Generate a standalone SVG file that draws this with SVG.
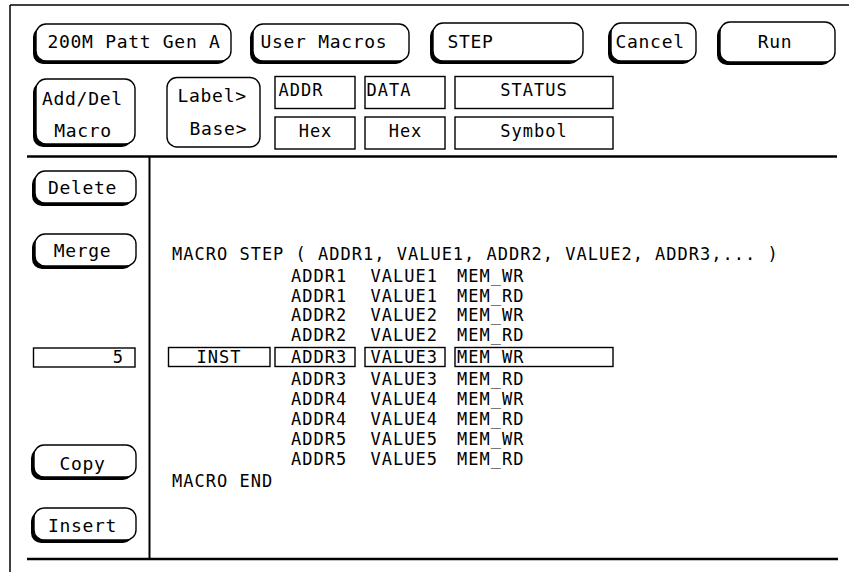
<svg xmlns="http://www.w3.org/2000/svg" width="849" height="572" viewBox="0 0 849 572">
<style>
text{font-family:"DejaVu Sans Mono","Liberation Mono",monospace;fill:#000}
.b{font-size:18px;letter-spacing:0.7px}
.t{font-size:17px;letter-spacing:1px}
.sh{fill:#000;stroke:none}
.face{fill:#fff;stroke:#000;stroke-width:1.4}
.box{fill:#fff;stroke:#000;stroke-width:1.4}
.ln{stroke:#000;fill:none}
.m{text-anchor:middle}
.e{text-anchor:end}
</style>
<rect x="0" y="0" width="849" height="572" fill="#fff"/>
<g id="frame">
<line class="ln" x1="10" y1="5" x2="849" y2="5" stroke-width="1.5"/>
<line class="ln" x1="10" y1="5" x2="10" y2="572" stroke-width="1.5"/>
<line class="ln" x1="27" y1="156.5" x2="837" y2="156.5" stroke-width="2.5"/>
<line class="ln" x1="149.5" y1="156" x2="149.5" y2="559" stroke-width="2"/>
<line class="ln" x1="27" y1="559" x2="838" y2="559" stroke-width="2.5"/>
</g>
<g id="btn-pattgen">
<rect class="sh" x="33" y="27" width="195" height="37" rx="10"/>
<rect class="face" x="36" y="24" width="195" height="37" rx="10"/>
<text class="b m" x="134" y="48">200M Patt Gen A</text>
</g>
<g id="btn-usermacros">
<rect class="sh" x="250" y="27" width="156" height="37" rx="10"/>
<rect class="face" x="253" y="24" width="156" height="37" rx="10"/>
<text class="b" x="260.5" y="48">User Macros</text>
</g>
<g id="btn-step">
<rect class="sh" x="430" y="26" width="150" height="38" rx="10"/>
<rect class="face" x="433" y="23" width="150" height="38" rx="10"/>
<text class="b" x="447.5" y="48">STEP</text>
</g>
<g id="btn-cancel">
<rect class="sh" x="608" y="26" width="85" height="38" rx="10"/>
<rect class="face" x="611" y="23" width="85" height="38" rx="10"/>
<text class="b" x="615.5" y="48">Cancel</text>
</g>
<g id="btn-run">
<rect class="sh" x="717" y="25" width="115" height="40" rx="10"/>
<rect class="face" x="720" y="22" width="115" height="40" rx="10" stroke-width="2"/>
<text class="b m" x="775" y="48">Run</text>
</g>
<g id="btn-adddel">
<rect class="sh" x="33" y="82" width="99" height="65" rx="10"/>
<rect class="face" x="36" y="79" width="99" height="65" rx="10"/>
<text class="b" x="42" y="105">Add/Del</text>
<text class="b m" x="83" y="137">Macro</text>
</g>
<g id="btn-labelbase">
<rect class="face" x="167" y="77.5" width="93" height="69.5" rx="10"/>
<text class="b" x="177.5" y="102">Label&gt;</text>
<text class="b" x="189.5" y="135">Base&gt;</text>
</g>
<g id="hdr-addr">
<rect class="box" x="275" y="76.5" width="80" height="32"/>
<text class="t" x="278.5" y="96">ADDR</text>
<rect class="box" x="275" y="117" width="80" height="32"/>
<text class="t m" x="315.5" y="137">Hex</text>
</g>
<g id="hdr-data">
<rect class="box" x="365" y="76.5" width="80" height="32"/>
<text class="t" x="366.5" y="96">DATA</text>
<rect class="box" x="365" y="117" width="80" height="32"/>
<text class="t m" x="405.5" y="137">Hex</text>
</g>
<g id="hdr-status">
<rect class="box" x="455" y="76.5" width="158" height="32"/>
<text class="t m" x="534" y="96">STATUS</text>
<rect class="box" x="455" y="117" width="158" height="32"/>
<text class="t m" x="534" y="137">Symbol</text>
</g>
<g id="btn-delete">
<rect class="sh" x="32" y="174" width="101" height="32" rx="10"/>
<rect class="face" x="35" y="171" width="101" height="32" rx="10"/>
<text class="b m" x="82.5" y="194">Delete</text>
</g>
<g id="btn-merge">
<rect class="sh" x="32" y="237" width="101" height="32" rx="10"/>
<rect class="face" x="35" y="234" width="101" height="32" rx="10"/>
<text class="b m" x="82.5" y="257">Merge</text>
</g>
<g id="field-count">
<rect class="box" x="33.5" y="348" width="101.5" height="19"/>
<text class="t e" x="124" y="363">5</text>
</g>
<g id="btn-copy">
<rect class="sh" x="31" y="448" width="102" height="32" rx="10"/>
<rect class="face" x="34" y="445" width="102" height="32" rx="10"/>
<text class="b m" x="82.5" y="470">Copy</text>
</g>
<g id="btn-insert">
<rect class="sh" x="31" y="511" width="102" height="32" rx="10"/>
<rect class="face" x="34" y="508" width="102" height="32" rx="10"/>
<text class="b m" x="82.5" y="532">Insert</text>
</g>
<g id="macro-listing">
<text class="t" x="172" y="260">MACRO STEP ( ADDR1, VALUE1, ADDR2, VALUE2, ADDR3,... )</text>
<text class="t" x="291" y="282">ADDR1</text><text class="t" x="370.5" y="282">VALUE1</text><text class="t" x="457" y="282">MEM_WR</text>
<text class="t" x="291" y="301.5">ADDR1</text><text class="t" x="370.5" y="301.5">VALUE1</text><text class="t" x="457" y="301.5">MEM_RD</text>
<text class="t" x="291" y="321">ADDR2</text><text class="t" x="370.5" y="321">VALUE2</text><text class="t" x="457" y="321">MEM_WR</text>
<text class="t" x="291" y="340.5">ADDR2</text><text class="t" x="370.5" y="340.5">VALUE2</text><text class="t" x="457" y="340.5">MEM_RD</text>
<text class="t" x="291" y="385">ADDR3</text><text class="t" x="370.5" y="385">VALUE3</text><text class="t" x="457" y="385">MEM_RD</text>
<text class="t" x="291" y="405">ADDR4</text><text class="t" x="370.5" y="405">VALUE4</text><text class="t" x="457" y="405">MEM_WR</text>
<text class="t" x="291" y="425">ADDR4</text><text class="t" x="370.5" y="425">VALUE4</text><text class="t" x="457" y="425">MEM_RD</text>
<text class="t" x="291" y="445">ADDR5</text><text class="t" x="370.5" y="445">VALUE5</text><text class="t" x="457" y="445">MEM_WR</text>
<text class="t" x="291" y="465">ADDR5</text><text class="t" x="370.5" y="465">VALUE5</text><text class="t" x="457" y="465">MEM_RD</text>
<text class="t" x="172" y="487">MACRO END</text>
</g>
<g id="inst-row">
<rect class="box" x="168.5" y="347.5" width="101.5" height="19"/>
<text class="t m" x="219" y="363">INST</text>
<rect class="box" x="275" y="347.5" width="80" height="19"/>
<text class="t" x="291" y="363">ADDR3</text>
<rect class="box" x="365" y="347.5" width="80" height="19"/>
<text class="t" x="370.5" y="363">VALUE3</text>
<rect class="box" x="455" y="347.5" width="158" height="19"/>
<text class="t" x="457" y="363">MEM_WR</text>
</g>
<g id="connectors"></g>
</svg>
